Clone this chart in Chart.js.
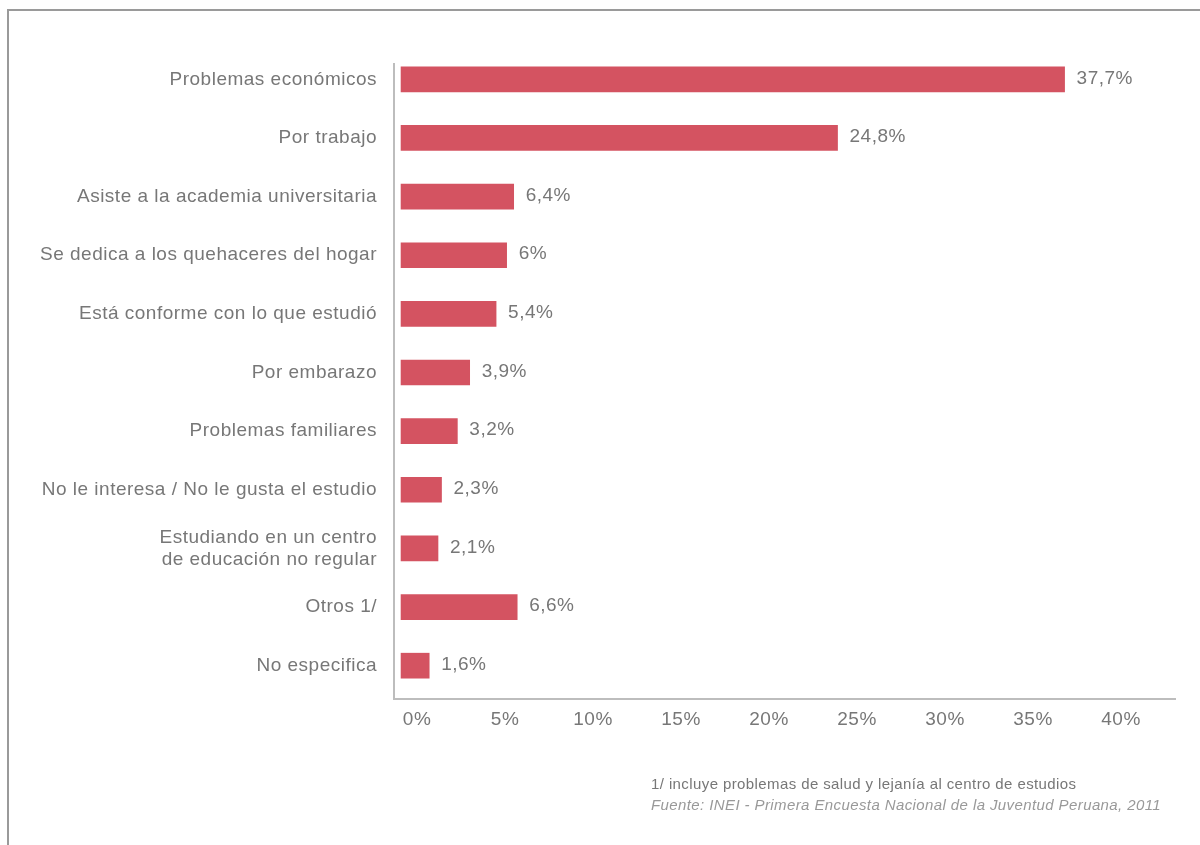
<!DOCTYPE html>
<html>
<head>
<meta charset="utf-8">
<script src="https://cdn.jsdelivr.net/npm/chart.js@4.4.1/dist/chart.umd.min.js"></script>
<style>
  html, body { margin: 0; padding: 0; background: #fff; }
  body { width: 1200px; height: 845px; position: relative; overflow: hidden; font-family: "Liberation Sans", Arial, sans-serif; }
  #frame { position: absolute; left: 7px; top: 9px; width: 1200px; height: 845px; border-top: 2px solid #9a9a9a; border-left: 2px solid #9a9a9a; }
  #wrap { position: absolute; left: 0; top: 0; width: 1200px; height: 845px; }
  .note { position: absolute; left: 651px; font-size: 15px; line-height: 18px; letter-spacing: 0.4px; color: #777; white-space: nowrap; }
  #n1 { top: 775px; }
  #n2 { top: 796px; font-style: italic; color: #999; }
</style>
</head>
<body>
<div id="frame"></div>
<div id="wrap"><canvas id="c" width="1200" height="845"></canvas></div>
<div class="note" id="n1">1/ incluye problemas de salud y lejanía al centro de estudios</div>
<div class="note" id="n2">Fuente: INEI - Primera Encuesta Nacional de la Juventud Peruana, 2011</div>
<script>
const categories = [
  "Problemas económicos",
  "Por trabajo",
  "Asiste a la academia universitaria",
  "Se dedica a los quehaceres del hogar",
  "Está conforme con lo que estudió",
  "Por embarazo",
  "Problemas familiares",
  "No le interesa / No le gusta el estudio",
  ["Estudiando en un centro", "de educación no regular"],
  "Otros 1/",
  "No especifica"
];
const values = [37.7, 24.8, 6.4, 6, 5.4, 3.9, 3.2, 2.3, 2.1, 6.6, 1.6];
const valueLabels = ["37,7%", "24,8%", "6,4%", "6%", "5,4%", "3,9%", "3,2%", "2,3%", "2,1%", "6,6%", "1,6%"];
const xTicks = [0, 5, 10, 15, 20, 25, 30, 35, 40];

const FONT = "'Liberation Sans', Arial, sans-serif";
const TEXT = '#777777';
const SPACING = '0.5px';

const spacingPlugin = {
  id: 'spacing',
  beforeDraw(chart) { chart.ctx.letterSpacing = SPACING; }
};

const valueLabelPlugin = {
  id: 'valueLabels',
  afterDatasetsDraw(chart) {
    const ctx = chart.ctx;
    const meta = chart.getDatasetMeta(0);
    ctx.save();
    ctx.letterSpacing = SPACING;
    ctx.font = '19px ' + FONT;
    ctx.fillStyle = TEXT;
    ctx.textAlign = 'left';
    ctx.textBaseline = 'middle';
    meta.data.forEach((bar, i) => {
      ctx.fillText(valueLabels[i], bar.x + 12, bar.y - 1);
    });
    ctx.restore();
  }
};

const axisLinesPlugin = {
  id: 'axisLines',
  afterDraw(chart) {
    const ctx = chart.ctx;
    const a = chart.chartArea;
    ctx.save();
    ctx.strokeStyle = '#bdbdbd';
    ctx.lineWidth = 2;
    ctx.beginPath();
    ctx.moveTo(a.left, a.top + 13);
    ctx.lineTo(a.left, a.bottom + 4);
    ctx.lineTo(a.right, a.bottom + 4);
    ctx.stroke();
    ctx.restore();
  }
};

new Chart(document.getElementById('c'), {
  type: 'bar',
  data: {
    labels: categories,
    datasets: [{
      data: values,
      backgroundColor: '#d45361',
      borderWidth: 0,
      barThickness: 25
    }]
  },
  options: {
    indexAxis: 'y',
    responsive: false,
    animation: false,
    layout: { padding: { top: 50, right: 24, left: 0, bottom: 0 } },
    plugins: { legend: { display: false }, tooltip: { enabled: false } },
    scales: {
      x: {
        type: 'linear',
        min: -0.4,
        max: 44.03,
        grid: { display: false, drawTicks: false },
        border: { display: false },
        afterFit(scale) { scale.height = 150; },
        afterBuildTicks(scale) { scale.ticks = xTicks.map(v => ({ value: v })); },
        ticks: {
          padding: 13,
          labelOffset: 16,
          color: TEXT,
          font: { size: 19, family: FONT, lineHeight: 1.2 },
          callback: v => v + '%'
        }
      },
      y: {
        grid: { display: false, drawTicks: false },
        border: { display: false },
        afterFit(scale) { scale.width = 394; },
        ticks: {
          padding: 17,
          color: TEXT,
          font: { size: 19, family: FONT, lineHeight: 1.15 }
        }
      }
    }
  },
  plugins: [spacingPlugin, valueLabelPlugin, axisLinesPlugin]
});
</script>
</body>
</html>
